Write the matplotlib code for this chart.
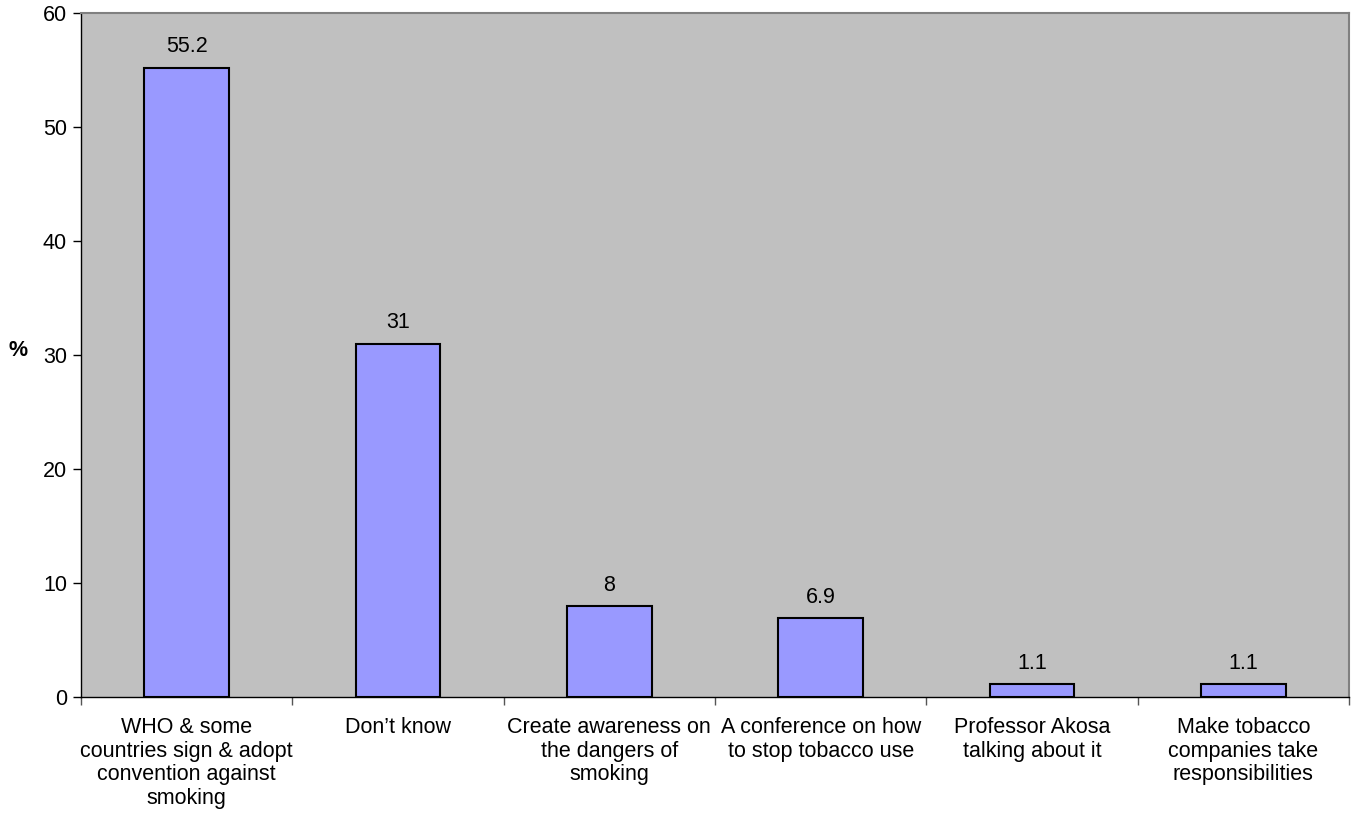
import matplotlib
matplotlib.use("Agg")
import matplotlib.pyplot as plt
import numpy as np

plt.rcParams['font.family'] = ['Liberation Sans', 'DejaVu Sans']

categories = [
    "WHO & some\ncountries sign & adopt\nconvention against\nsmoking",
    "Don\u2019t know",
    "Create awareness on\nthe dangers of\nsmoking",
    "A conference on how\nto stop tobacco use",
    "Professor Akosa\ntalking about it",
    "Make tobacco\ncompanies take\nresponsibilities",
]
values = [55.2, 31, 8, 6.9, 1.1, 1.1]
value_labels = ["55.2", "31", "8", "6.9", "1.1", "1.1"]
yticks = [0, 10, 20, 30, 40, 50, 60]

FS = 15.5

fig = plt.figure(figsize=(13.53, 8.16), dpi=100)
ax = fig.add_axes([81 / 1353, 119 / 816, 1268 / 1353, 684 / 816])
ax.set_facecolor('#C0C0C0')

x = np.arange(len(categories))
ax.bar(x, values, width=0.4, color='#9999FF', edgecolor='black', linewidth=1.5, zorder=3)

for xi, v, lab in zip(x, values, value_labels):
    ax.text(xi, v + 0.9, lab, ha='center', va='bottom', fontsize=FS)

ax.set_xlim(-0.5, len(categories) - 0.5)
ax.set_ylim(0, 60)
ax.set_yticks(yticks)
ax.tick_params(axis='y', labelsize=FS, length=6, width=1, direction='out', pad=4)

# category labels centred under bars, tick marks at category boundaries
ax.set_xticks(np.arange(-0.5, len(categories) + 0.5, 1.0))
ax.set_xticklabels([])
ax.tick_params(axis='x', length=6, width=1, direction='out', color='#555555')
for xi, cat in zip(x, categories):
    ax.text(xi, -1.75, cat, ha='center', va='top', fontsize=FS,
            linespacing=1.17, transform=ax.transData)

for side in ['top', 'right']:
    ax.spines[side].set_color('#808080')
    ax.spines[side].set_linewidth(1.5)
for side in ['left', 'bottom']:
    ax.spines[side].set_color('black')
    ax.spines[side].set_linewidth(1.0)

fig.text(18 / 1353, 1 - 350 / 816, '%', fontsize=FS, fontweight='bold',
         ha='center', va='center')

fig.savefig('out.png', dpi=100)
